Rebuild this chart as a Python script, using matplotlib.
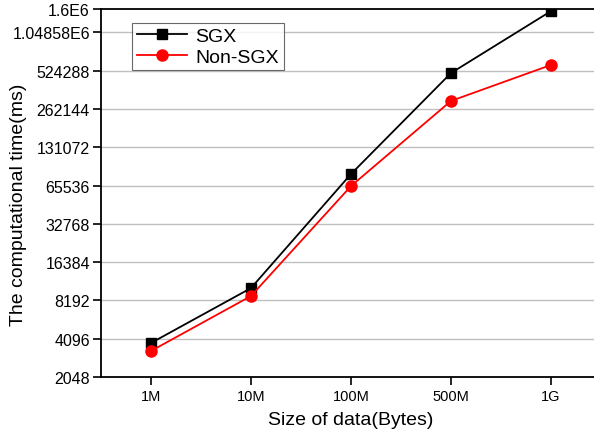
import numpy as np
import matplotlib
matplotlib.use('Agg')
import matplotlib.pyplot as plt
from matplotlib.ticker import FixedLocator, FixedFormatter, NullLocator

plt.rcParams['font.family'] = ['Liberation Sans', 'DejaVu Sans']

sizes = ['1M', '10M', '100M', '500M', '1G']
sgx = [3790, 10240, 80700, 502000, 1540000]
non_sgx = [3280, 8870, 64900, 303000, 581000]

yticks = [2048, 4096, 8192, 16384, 32768, 65536, 131072, 262144, 524288, 1048576, 1.6e6]
ylabels = ['2048', '4096', '8192', '16384', '32768', '65536', '131072', '262144',
           '524288', '1.04858E6', '1.6E6']

fig = plt.figure(figsize=(5.94, 4.35), dpi=100)
ax = fig.add_axes([101/594, 1 - 378/435, 500/594, 368/435])

x = np.arange(len(sizes))
ax.plot(x, sgx, color='black', marker='s', markersize=7, linewidth=1.3, label='SGX')
ax.plot(x, non_sgx, color='red', marker='o', markersize=8, linewidth=1.3, label='Non-SGX')

ax.set_yscale('log', base=2)
ax.set_ylim(2048, 1.6e6)
ax.set_xlim(-0.5, 4.5)
ax.yaxis.set_major_locator(FixedLocator(yticks))
ax.yaxis.set_major_formatter(FixedFormatter(ylabels))
ax.yaxis.set_minor_locator(NullLocator())
ax.set_xticks(x)
ax.set_xticklabels(sizes)

for t in yticks[1:-1]:
    ax.axhline(t, color='#c0c0c0', linewidth=1, zorder=0)

ax.tick_params(axis='both', direction='out', length=6, width=1.2)
ax.tick_params(axis='x', labelsize=10.5, pad=3)
ax.tick_params(axis='y', labelsize=11.5, pad=2)
for s in ax.spines.values():
    s.set_linewidth(1.3)

ax.set_xlabel('Size of data(Bytes)', fontsize=14)
ax.set_ylabel('The computational time(ms)', fontsize=14)
ax.xaxis.set_label_coords(0.5, -0.092)
ax.yaxis.set_label_coords(-0.148, 0.47)

leg = ax.legend(loc='upper left', bbox_to_anchor=(0.062, 0.963), fontsize=14,
                frameon=True, fancybox=False, edgecolor='#444444',
                handlelength=2.6, borderpad=0.25, labelspacing=0.15, handletextpad=0.4,
                borderaxespad=0)
leg.get_frame().set_linewidth(0.8)

fig.savefig('out.png', dpi=100)
